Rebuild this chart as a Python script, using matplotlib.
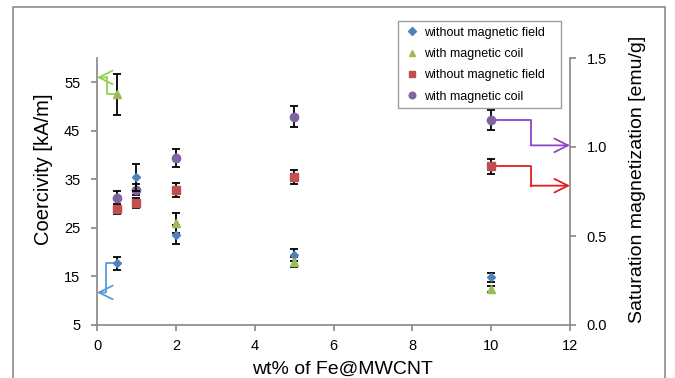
import matplotlib.pyplot as plt
from matplotlib.lines import Line2D
from matplotlib.patches import Rectangle

plt.rcParams['font.family'] = ['Liberation Sans', 'DejaVu Sans']

# ── data ──────────────────────────────────────────────────────────────────────
wt = [0.5, 1, 2, 5, 10]

hc_no_field = [17.7, 35.4, 23.6, 19.4, 14.8]
hc_no_field_err = [1.3, 2.7, 1.9, 1.3, 1.0]

hc_coil_x = [0.5, 2, 5, 10]
hc_coil = [52.5, 26.0, 18.0, 12.5]
hc_coil_err = [4.2, 2.0, 1.1, 0.6]

ms_no_field = [28.9, 30.2, 32.8, 35.5, 37.7]
ms_no_field_err = [1.1, 1.0, 1.4, 1.5, 1.5]

ms_coil = [31.1, 32.9, 39.4, 47.9, 47.2]
ms_coil_err = [1.4, 1.2, 1.8, 2.2, 2.0]

labels = ['without magnetic field', 'with magnetic coil',
          'without magnetic field', 'with magnetic coil']
colors = ['#4F81BD', '#9BBB59', '#C0504D', '#8064A2']
markers = ['D', '^', 's', 'o']
sizes = [4.5, 6, 6, 6]

# ── figure ────────────────────────────────────────────────────────────────────
fig = plt.figure(figsize=(6.75, 3.78), dpi=100)
fig.patches.append(Rectangle((13 / 675, -0.05), 652 / 675, 1.05 - 7 / 378,
                             transform=fig.transFigure, fill=False,
                             edgecolor='#8c8c8c', lw=1.2))

ax = fig.add_axes([97 / 675, 1 - 325 / 378, 473 / 675, 267 / 378])
ax2 = ax.twinx()

grey = '#868686'
err_kw = dict(ecolor='black', elinewidth=1.3, capsize=3, capthick=1.3, ls='none')

series = [(wt, hc_no_field, hc_no_field_err, 4),
          (hc_coil_x, hc_coil, hc_coil_err, 4),
          (wt, ms_no_field, ms_no_field_err, 3),
          (wt, ms_coil, ms_coil_err, 3)]
for (x, y, e, z), c, m, s in zip(series, colors, markers, sizes):
    ax.errorbar(x, y, yerr=e, marker=m, ms=s, color=c, zorder=z, **err_kw)

# stepped arrows linking each series to the axis it is read against
def axis_arrow(x0, y0, x_elbow, y_tip, x_tip, color):
    ax.plot([x0, x_elbow, x_elbow], [y0, y0, y_tip], color=color, lw=1.3,
            clip_on=False, zorder=2)
    ax.annotate('', xy=(x_tip, y_tip), xytext=(x_elbow, y_tip),
                arrowprops=dict(arrowstyle='->,head_length=0.7,head_width=0.35',
                                color=color, lw=1.3, shrinkA=0, shrinkB=0,
                                mutation_scale=14),
                annotation_clip=False, zorder=2)

axis_arrow(wt[0], hc_coil[0], 0.25, 56.0, 0, '#92D050')
axis_arrow(wt[0], hc_no_field[0], 0.22, 11.7, 0, '#5B9BD5')
axis_arrow(wt[-1], ms_coil[-1], 11.0, 42.0, 12, '#8E44C8')
axis_arrow(wt[-1], ms_no_field[-1], 11.0, 33.7, 12, '#E02020')

ax.set_xlim(0, 12)
ax.set_ylim(5, 60)
ax.set_xticks(range(0, 13, 2))
ax.set_yticks(range(5, 56, 10))
ax2.set_ylim(0, 1.5)
ax2.set_yticks([0.0, 0.5, 1.0, 1.5])
ax2.set_yticklabels(['0.0', '0.5', '1.0', '1.5'])

for a in (ax, ax2):
    a.spines['top'].set_visible(False)
    for s in a.spines.values():
        s.set_color(grey)
        s.set_linewidth(1.2)
    a.tick_params(colors=grey, labelcolor='black', labelsize=10.5,
                  length=4, width=1.2)
ax.spines['right'].set_visible(False)
ax2.spines['left'].set_visible(False)
ax2.spines['bottom'].set_visible(False)
ax.tick_params(axis='y', pad=8)
ax.tick_params(axis='x', pad=6)
ax2.tick_params(axis='y', pad=8)

ax.set_xlabel('wt% of Fe@MWCNT', fontsize=14, labelpad=6)
ax.set_ylabel('Coercivity [kA/m]', fontsize=14.5, labelpad=8)
ax2.set_ylabel('Saturation magnetization [emu/g]', fontsize=14, labelpad=16)
ax.xaxis.label.set_x(0.518)
ax.yaxis.label.set_y(0.584)
ax2.yaxis.label.set_y(0.547)

handles = [Line2D([], [], ls='none', marker=m, ms=s * 0.8, color=c)
           for c, m, s in zip(colors, markers, sizes)]
leg = ax.legend(handles, labels, loc='upper left', mode='expand',
                bbox_to_anchor=(398 / 675, 1 - 107 / 378, 163 / 675, 86 / 378),
                bbox_transform=fig.transFigure, fontsize=9, frameon=True,
                fancybox=False, edgecolor=grey, handlelength=1.4,
                handletextpad=0.2, labelspacing=0.75, borderpad=0.45,
                borderaxespad=0)
leg.get_frame().set_linewidth(1.0)

fig.savefig('out.png', dpi=100)
